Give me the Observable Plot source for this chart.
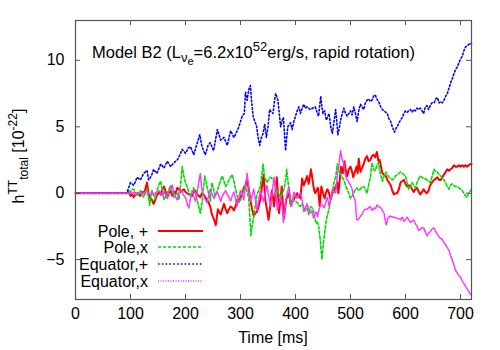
<!DOCTYPE html>
<html><head><meta charset="utf-8">
<script src="https://cdn.jsdelivr.net/npm/d3@7"></script>
<script src="https://cdn.jsdelivr.net/npm/@observablehq/plot@0.6"></script>
<style>body{margin:0;background:#fff}#chart svg{display:block}</style>
</head><body><div id="chart"></div>
<script>
const xTicks = [0,100,200,300,400,500,600,700];
const yTicks = [-5,0,5,10];
const seriesNames = ["Pole, +","Pole,x","Equator,+","Equator,x"];

const polePlus = [[0,0],[94,0],[97,0.1],[100,-0.2],[103,-0.1],[106,-0.3],[109,-0.1],[112,0.0],[115,-0.1],[118,-0.2],[121,0.1],[124,0.0],[127,0.3],[130,0.8],[133,-0.1],[136,-0.4],[139,-0.5],[142,-0.8],[145,-0.5],[148,-0.2],[152,0.1],[155,-0.1],[158,0.3],[161,0.5],[164,0.1],[167,-0.3],[170,0.0],[173,0.2],[176,-0.2],[179,0.1],[182,0.0],[185,0.4],[188,0.3],[191,0.1],[194,0.2],[197,0.3],[200,0.1],[203,0.0],[206,-0.1],[209,-0.1],[212,-0.2],[215,0.1],[218,0.2],[221,-0.1],[224,-0.2],[227,-0.3],[230,0.0],[233,-0.1],[236,-0.3],[239,-0.5],[242,-0.7],[245,-1.0],[248,-1.6],[252,-2.0],[255,-2.4],[257,-1.8],[259,-1.2],[261,-1.4],[264,-1.6],[267,-1.2],[270,-0.8],[273,-1.2],[276,-1.5],[279,-1.2],[282,-1.0],[285,-1.1],[288,-1.3],[291,-1.0],[294,-0.5],[297,-0.6],[300,-0.3],[303,0.0],[306,0.4],[309,0.6],[312,1.0],[315,0.3],[318,-0.5],[321,-1.2],[324,-1.7],[327,-1.5],[330,-1.4],[333,-1.0],[336,-0.5],[339,0.5],[342,1.4],[345,-0.5],[348,-1.2],[351,-2.0],[354,-1.0],[357,0.2],[359,-0.3],[361,-1.0],[364,0.2],[366,1.2],[368,0.0],[370,-1.5],[373,-0.4],[375,0.5],[377,-0.8],[379,-1.9],[381,-1.2],[383,-0.5],[386,-0.2],[388,0.0],[391,-0.8],[394,-0.6],[397,-0.5],[400,-0.2],[403,0.0],[406,-0.2],[409,-0.4],[412,1.1],[415,0.6],[418,0.9],[421,1.3],[424,0.7],[426,1.2],[428,1.8],[430,1.3],[432,0.7],[434,0.2],[436,0.0],[439,0.3],[441,0.4],[444,-1.0],[447,0.5],[450,0.0],[453,-0.4],[455,0.0],[458,0.3],[461,0.0],[464,-0.5],[467,0.0],[470,0.2],[473,0.5],[476,0.8],[478,0.0],[481,1.2],[483,2.0],[486,1.5],[489,2.4],[491,1.8],[494,1.3],[497,1.8],[500,2.0],[503,1.6],[505,1.2],[508,1.6],[511,2.0],[513,1.5],[515,2.6],[518,1.6],[521,1.9],[524,2.2],[527,2.6],[530,2.8],[533,2.4],[536,2.5],[539,2.8],[542,2.9],[545,2.7],[548,3.1],[551,2.4],[553,2.5],[556,1.9],[558,1.5],[561,1.4],[564,1.3],[567,1.0],[570,0.8],[573,0.6],[576,0.2],[579,-0.1],[582,0.0],[585,0.0],[588,0.3],[591,0.8],[594,0.9],[597,1.0],[600,0.7],[603,0.5],[606,0.6],[609,0.5],[612,0.3],[615,0.1],[618,0.3],[621,0.4],[624,0.1],[627,-0.1],[630,0.1],[633,0.3],[636,0.1],[639,0.0],[642,0.2],[645,0.6],[648,0.8],[652,1.0],[655,1.1],[658,1.2],[661,1.0],[664,1.0],[667,1.2],[670,1.4],[673,1.6],[676,1.8],[679,1.7],[682,1.8],[685,1.9],[688,2.1],[691,2.0],[694,2.0],[697,2.1],[700,2.0],[703,2.1],[706,2.0],[709,2.1],[712,2.0],[715,2.1],[718,2.2],[720,2.2]];

const poleCross = [[0,0],[94,0],[97,0.2],[100,0.1],[103,0.3],[106,0.3],[109,0.0],[112,-0.2],[115,0.0],[118,0.2],[121,-0.1],[124,-0.3],[127,0.0],[130,0.3],[133,-0.4],[135,-0.9],[137,-0.3],[139,0.2],[142,-0.1],[145,-0.4],[148,0.2],[152,0.7],[155,0.9],[158,0.2],[161,-0.5],[164,-0.2],[167,0.0],[170,0.3],[173,0.6],[176,0.1],[179,-0.3],[182,-0.1],[185,0.0],[188,-0.5],[191,0.6],[194,2.0],[197,1.3],[200,0.8],[203,0.5],[206,0.1],[209,-0.2],[212,0.1],[215,0.4],[218,0.0],[221,-0.5],[224,-1.0],[227,-1.5],[230,-0.7],[233,0.5],[235,1.3],[237,0.9],[239,0.5],[242,0.0],[245,-0.6],[248,0.8],[251,0.3],[254,-0.2],[258,0.2],[261,0.6],[264,1.0],[267,1.3],[270,0.9],[273,0.5],[276,0.7],[279,1.0],[282,1.2],[285,1.4],[288,0.9],[291,0.3],[294,-0.2],[297,-0.7],[300,-0.5],[303,-0.2],[306,0.2],[309,0.6],[312,0.1],[315,-0.4],[317,-1.8],[319,-3.2],[321,-2.5],[324,-1.8],[327,-0.9],[330,-0.1],[333,0.2],[336,0.5],[339,1.5],[341,2.2],[344,1.2],[348,0.8],[351,1.0],[354,1.2],[358,1.1],[361,0.9],[364,0.5],[367,0.1],[370,-0.1],[373,-0.3],[376,0.0],[379,0.3],[382,1.0],[384,1.8],[386,1.0],[388,0.3],[391,-1.0],[394,-0.8],[397,-0.5],[400,-0.6],[403,-0.7],[406,-0.9],[409,-1.0],[412,-0.8],[415,-1.0],[418,-1.3],[421,-1.1],[424,-1.6],[427,-1.0],[430,-1.1],[432,-1.2],[435,-1.8],[438,-2.3],[440,-2.2],[442,-2.5],[445,-3.5],[448,-5.0],[450,-4.0],[453,-3.0],[456,-2.0],[459,-1.5],[462,-1.0],[464,-0.5],[467,0.2],[470,0.8],[473,1.2],[476,2.2],[479,1.6],[482,1.4],[485,1.2],[488,1.0],[491,0.6],[494,0.3],[497,0.0],[500,-0.4],[503,-0.2],[506,0.0],[509,0.3],[512,0.4],[515,0.2],[518,0.3],[521,0.5],[524,0.5],[527,0.3],[530,0.0],[533,0.6],[536,1.2],[539,2.3],[542,1.8],[545,1.7],[548,2.1],[551,2.3],[554,1.5],[558,0.9],[561,1.3],[564,1.6],[567,1.4],[570,1.2],[573,1.1],[576,1.0],[579,1.1],[582,1.3],[585,1.4],[588,1.5],[591,1.6],[594,1.5],[597,1.4],[600,1.3],[603,0.8],[606,0.3],[609,0.5],[612,0.8],[615,0.6],[618,0.4],[621,0.8],[624,1.1],[627,1.3],[630,1.2],[633,1.1],[636,1.1],[639,1.0],[642,0.9],[645,0.8],[648,1.2],[652,1.8],[655,1.6],[658,1.6],[661,1.4],[664,1.3],[667,1.1],[670,1.0],[673,0.8],[676,0.5],[679,0.3],[682,0.6],[685,0.7],[688,0.6],[691,0.5],[694,0.5],[697,0.4],[700,0.3],[703,0.2],[706,0.0],[709,-0.2],[712,-0.3],[715,0.0],[718,0.2],[720,0.3]];

const eqPlus = [[0,0],[92,0],[94,0.1],[100,0.8],[106,0.6],[112,1.2],[118,1.0],[124,1.5],[130,1.7],[133,1.0],[138,1.3],[142,1.8],[148,1.5],[155,2.2],[161,1.9],[167,2.4],[173,2.0],[179,2.3],[185,2.5],[190,2.9],[194,3.3],[200,3.0],[205,3.4],[209,3.5],[215,2.9],[220,3.6],[226,4.4],[230,3.5],[236,2.9],[241,3.6],[245,3.8],[251,3.2],[258,4.8],[264,4.0],[270,4.2],[276,3.6],[282,4.7],[288,4.2],[293,4.6],[297,5.0],[303,5.8],[307,6.0],[309,7.6],[312,7.0],[315,7.8],[318,8.1],[320,7.0],[323,5.8],[326,5.4],[329,5.1],[332,4.2],[335,3.6],[338,4.2],[341,4.5],[344,5.2],[347,4.2],[350,5.0],[353,6.3],[356,6.1],[359,6.0],[362,7.0],[364,7.5],[368,7.0],[371,5.8],[373,5.0],[376,5.5],[378,5.7],[380,4.5],[382,3.2],[384,4.2],[386,5.0],[391,5.3],[394,4.8],[397,5.4],[400,5.8],[403,6.2],[406,6.5],[409,6.0],[412,6.4],[415,6.7],[418,6.4],[421,6.5],[427,6.3],[431,6.4],[436,6.5],[439,6.1],[442,5.8],[444,6.6],[446,7.3],[448,6.5],[450,6.0],[453,6.2],[456,5.5],[459,5.8],[461,6.0],[464,5.0],[467,4.5],[470,5.4],[473,6.3],[475,5.4],[477,4.4],[480,5.0],[482,5.5],[485,6.0],[488,6.4],[491,6.0],[494,5.8],[497,6.0],[500,6.2],[503,5.9],[506,6.5],[509,6.0],[512,5.4],[515,6.2],[518,6.7],[521,6.5],[524,6.3],[527,6.8],[530,7.0],[533,7.1],[536,6.9],[539,7.0],[542,7.3],[545,7.4],[548,7.1],[552,6.8],[555,6.5],[558,6.3],[561,6.2],[564,6.1],[567,6.0],[570,5.6],[573,5.4],[576,5.0],[580,4.6],[583,4.9],[585,5.0],[588,5.3],[591,5.5],[594,5.7],[597,6.0],[600,6.2],[603,6.1],[606,6.2],[609,6.3],[612,6.1],[615,6.3],[618,6.2],[621,6.4],[624,6.3],[627,6.4],[630,6.2],[633,6.0],[636,6.5],[639,6.6],[642,6.3],[645,6.6],[648,6.8],[652,6.8],[655,7.1],[658,7.2],[661,6.8],[664,6.9],[667,6.8],[670,7.0],[673,7.3],[676,7.5],[679,7.9],[682,8.3],[685,8.6],[688,9.0],[691,9.3],[694,9.5],[697,9.8],[700,10.1],[703,10.3],[706,10.7],[709,11.0],[712,11.1],[715,11.2],[718,11.3],[720,11.2]];

const eqCross = [[0,0],[94,0],[97,0.0],[100,0.1],[103,0.0],[106,0.1],[109,-0.1],[112,0.0],[115,0.1],[118,0.0],[121,-0.1],[124,0.1],[127,0.0],[130,0.2],[133,0.0],[136,-0.1],[139,0.1],[142,-0.2],[145,0.0],[148,0.1],[152,0.2],[155,0.0],[158,-0.2],[161,0.1],[164,-0.1],[167,-0.4],[170,0.2],[173,0.4],[176,0.6],[179,0.0],[182,-0.3],[185,-0.5],[188,0.0],[191,0.3],[194,0.1],[197,-0.2],[200,-0.3],[203,-0.8],[206,-1.1],[209,-0.4],[212,0.2],[215,-0.2],[218,-0.6],[221,0.0],[224,0.8],[227,1.5],[230,0.2],[233,-0.2],[236,-0.5],[239,-0.7],[242,-0.2],[245,0.3],[248,0.0],[252,-0.4],[255,-0.1],[258,0.1],[261,-0.3],[264,-0.6],[267,-0.2],[270,0.0],[273,0.2],[276,-0.1],[279,-0.3],[282,-0.6],[285,-0.2],[288,0.1],[291,-0.4],[294,-1.0],[297,-0.3],[300,0.2],[303,-0.1],[306,-0.5],[309,0.5],[312,1.5],[315,0.5],[318,-0.6],[321,-0.2],[324,0.3],[327,-0.4],[330,-1.3],[333,-0.5],[336,0.2],[339,-0.2],[342,-0.6],[345,0.0],[348,0.6],[351,-0.2],[355,-1.0],[358,0.2],[361,1.2],[364,0.0],[367,-1.3],[370,-0.8],[373,-0.3],[376,-1.0],[378,-2.2],[380,-1.5],[382,-0.6],[385,0.0],[388,0.5],[391,-0.3],[393,-1.0],[395,-0.4],[397,0.1],[400,-0.2],[403,-0.4],[406,-0.1],[409,0.0],[412,-0.5],[415,-1.4],[418,-1.1],[421,-0.8],[424,-1.2],[427,-1.5],[430,-1.3],[433,-1.9],[436,-1.5],[438,-1.4],[440,-1.8],[443,-1.2],[446,-0.8],[449,-0.9],[452,-1.1],[455,-0.7],[458,-0.3],[461,-1.0],[464,-0.4],[467,0.3],[470,0.1],[473,0.0],[476,1.3],[479,2.2],[482,3.2],[485,2.5],[488,2.2],[491,1.3],[494,1.0],[497,0.8],[500,0.6],[503,0.3],[506,-0.3],[509,-0.6],[511,-2.0],[514,-2.0],[517,-1.8],[521,-1.6],[524,-1.3],[527,-1.2],[530,-1.2],[533,-1.1],[536,-1.0],[539,-1.3],[542,-1.1],[545,-1.2],[548,-0.9],[551,-1.0],[555,-1.1],[558,-1.3],[561,-1.5],[563,-2.0],[565,-2.4],[568,-1.9],[572,-1.7],[576,-1.8],[580,-1.8],[584,-1.9],[588,-1.9],[591,-2.0],[594,-1.8],[597,-2.1],[600,-2.0],[603,-1.8],[606,-2.0],[609,-2.2],[612,-2.1],[615,-2.0],[618,-2.3],[621,-2.5],[624,-2.8],[627,-2.7],[630,-2.6],[633,-2.6],[636,-2.9],[639,-3.2],[642,-3.0],[645,-2.9],[648,-2.7],[652,-2.6],[655,-2.9],[658,-3.1],[661,-3.3],[664,-3.4],[667,-3.5],[670,-3.7],[673,-3.9],[676,-4.1],[679,-4.3],[682,-4.7],[685,-5.0],[688,-5.4],[691,-5.8],[694,-6.0],[697,-6.2],[700,-6.3],[703,-6.6],[706,-6.8],[709,-7.0],[712,-7.2],[715,-7.4],[718,-7.6],[720,-7.7]];

const W = 500, H = 350, ML = 75, MR = 29, MT = 20, MB = 51;
const PW = W - ML - MR, PH = H - MT - MB;
const FONT = "'Liberation Sans', Arial, sans-serif";

const styles = [
  {stroke: "#ff0000", strokeWidth: 2, dash: null},
  {stroke: "#00dd00", strokeWidth: 1.6, dash: "3,2"},
  {stroke: "#0000ff", strokeWidth: 1.6, dash: "1.6,2.2"},
  {stroke: "#ff33ff", strokeWidth: 1.6, dash: "1.1,1.4"}
];
const seriesData = [polePlus, poleCross, eqPlus, eqCross];

const lineMarks = seriesData.map((d, i) => Plot.line(d, {
  x: p => p[0], y: p => p[1],
  stroke: styles[i].stroke, strokeWidth: styles[i].strokeWidth,
  strokeDasharray: styles[i].dash
}));

const chart = Plot.plot({
  width: W, height: H,
  marginLeft: ML, marginRight: MR, marginTop: MT, marginBottom: MB,
  style: {fontFamily: FONT, fontSize: "16px", color: "#000", background: "#fff"},
  x: {domain: [0, 720]},
  y: {domain: [-8, 13]},
  marks: [
    ...lineMarks,
    Plot.tickX(xTicks, {x: d => d, insetTop: PH - 5, stroke: "#555"}),
    Plot.tickX(xTicks, {x: d => d, insetBottom: PH - 5, stroke: "#555"}),
    Plot.tickY(yTicks, {y: d => d, insetRight: PW - 5, stroke: "#555"}),
    Plot.tickY(yTicks, {y: d => d, insetLeft: PW - 5, stroke: "#555"}),
    Plot.axisX(xTicks, {tickSize: 0, tickPadding: 8, label: null, fontSize: 16}),
    Plot.axisY(yTicks, {tickSize: 0, tickPadding: 11, label: null, fontSize: 16}),
    Plot.frame({stroke: "#555", strokeWidth: 1.2})
  ]
});
document.getElementById("chart").appendChild(chart);

const svg = d3.select(chart);
// title
const t = svg.append("text").attr("x", 92).attr("y", 58).attr("text-anchor", "start")
  .attr("font-family", FONT).attr("font-size", 16.5).attr("fill", "#000");
t.append("tspan").text("Model B2 (L");
t.append("tspan").attr("dy", 4).attr("font-size", 13).text("ν");
t.append("tspan").attr("dy", 3).attr("font-size", 11).text("e");
t.append("tspan").attr("dy", -7).attr("font-size", 16.5).text("=6.2x10");
t.append("tspan").attr("dy", -7).attr("font-size", 13).text("52");
t.append("tspan").attr("dy", 7).attr("font-size", 16.5).text("erg/s, rapid rotation)");

// x label
svg.append("text").attr("x", 273).attr("y", 343).attr("text-anchor", "middle")
  .attr("font-family", FONT).attr("font-size", 16).text("Time [ms]");

// y label
const yl = svg.append("text").attr("transform", "translate(24,156) rotate(-90)")
  .attr("text-anchor", "middle").attr("font-family", FONT).attr("font-size", 16);
yl.append("tspan").text("h");
yl.append("tspan").attr("dy", -7).attr("font-size", 12).text("TT");
yl.append("tspan").attr("dy", 11).attr("font-size", 12).text("total");
yl.append("tspan").attr("dy", -4).attr("font-size", 16).text(" [10");
yl.append("tspan").attr("dy", -7).attr("font-size", 12).text("-22");
yl.append("tspan").attr("dy", 7).attr("font-size", 16).text("]");

// legend
const rowY = [231, 247, 264, 281];
seriesNames.forEach((name, i) => {
  svg.append("text").attr("x", 148).attr("y", rowY[i]).attr("dy", "0.35em")
    .attr("text-anchor", "end").attr("font-family", FONT).attr("font-size", 16).text(name);
  svg.append("line").attr("x1", 158).attr("x2", 203).attr("y1", rowY[i]).attr("y2", rowY[i])
    .attr("stroke", styles[i].stroke).attr("stroke-width", styles[i].strokeWidth)
    .attr("stroke-dasharray", styles[i].dash);
});
</script>
</body></html>
